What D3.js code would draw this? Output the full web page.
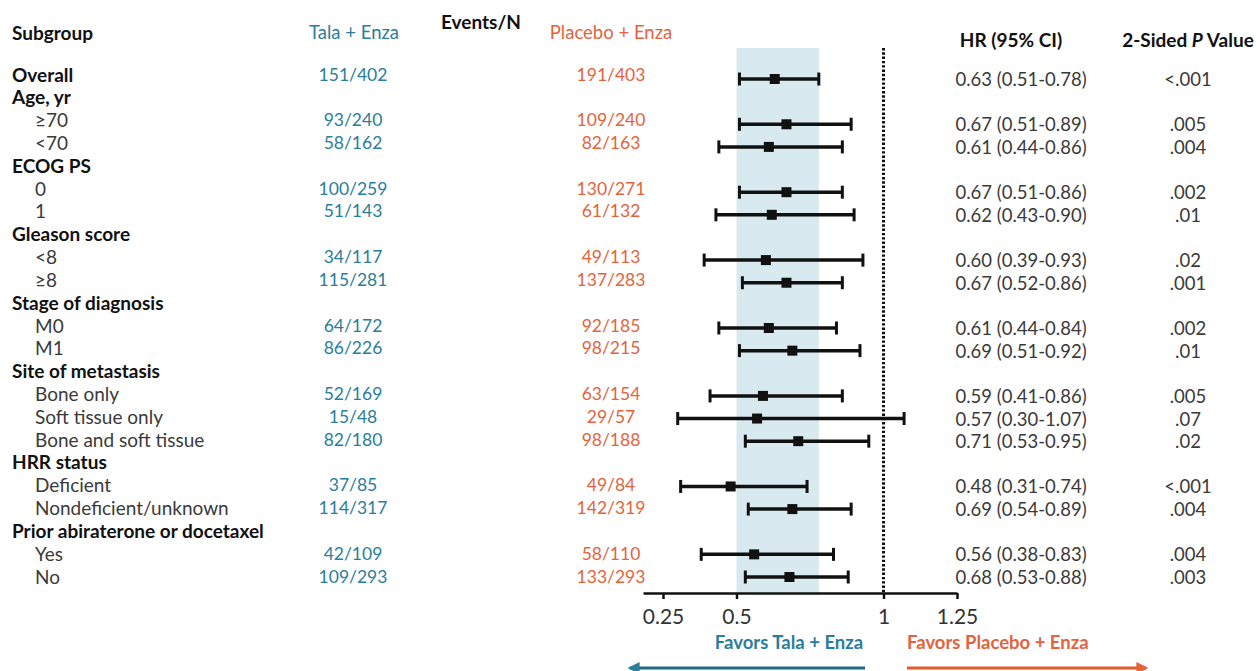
<!DOCTYPE html>
<meta charset="utf-8">
<script src="https://cdn.jsdelivr.net/npm/d3@7"></script>
<style>
  body { margin: 0; background: #fff; }
  svg text { font-family: Lato, "Open Sans", sans-serif; }
</style>
<body></body>
<script>

// --- data ---
var subgroups = ["Overall", "Age, yr", "\u226570", "<70", "ECOG PS", "0", "1",
  "Gleason score", "<8", "\u22658", "Stage of diagnosis", "M0", "M1",
  "Site of metastasis", "Bone only", "Soft tissue only", "Bone and soft tissue",
  "HRR status", "Deficient", "Nondeficient/unknown",
  "Prior abiraterone or docetaxel", "Yes", "No"];

var headingRows = ["Overall", "Age, yr", "ECOG PS", "Gleason score", "Stage of diagnosis",
  "Site of metastasis", "HRR status", "Prior abiraterone or docetaxel"];

var talaEvents = ["151/402", null, "93/240", "58/162", null, "100/259", "51/143", null,
  "34/117", "115/281", null, "64/172", "86/226", null, "52/169", "15/48", "82/180", null,
  "37/85", "114/317", null, "42/109", "109/293"];

var placeboEvents = ["191/403", null, "109/240", "82/163", null, "130/271", "61/132", null,
  "49/113", "137/283", null, "92/185", "98/215", null, "63/154", "29/57", "98/188", null,
  "49/84", "142/319", null, "58/110", "133/293"];

var hr     = [0.63, null, 0.67, 0.61, null, 0.67, 0.62, null, 0.60, 0.67, null, 0.61, 0.69, null, 0.59, 0.57, 0.71, null, 0.48, 0.69, null, 0.56, 0.68];
var ciLow  = [0.51, null, 0.51, 0.44, null, 0.51, 0.43, null, 0.39, 0.52, null, 0.44, 0.51, null, 0.41, 0.30, 0.53, null, 0.31, 0.54, null, 0.38, 0.53];
var ciHigh = [0.78, null, 0.89, 0.86, null, 0.86, 0.90, null, 0.93, 0.86, null, 0.84, 0.92, null, 0.86, 1.07, 0.95, null, 0.74, 0.89, null, 0.83, 0.88];

var pValues = ["<.001", null, ".005", ".004", null, ".002", ".01", null, ".02", ".001", null,
  ".002", ".01", null, ".005", ".07", ".02", null, "<.001", ".004", null, ".004", ".003"];

var tickValues = [0.25, 0.5, 1, 1.25];
var shadeRange = [0.5, 0.78];   // overall CI band
var nullValue = 1;

var teal = "#2b7d9b", orange = "#e4633c";

// --- layout ---
var width = 1257, height = 671;

var svg = d3.select("body").append("svg")
    .attr("width", width)
    .attr("height", height);

var rows = subgroups.map(function(s, i) {
  return {
    i: i, label: s, heading: headingRows.indexOf(s) >= 0,
    tala: talaEvents[i], placebo: placeboEvents[i],
    hr: hr[i], lo: ciLow[i], hi: ciHigh[i], p: pValues[i]
  };
});

var yLeft = d3.scalePoint().domain(d3.range(rows.length)).range([74, 576]);
var yRight = d3.scalePoint().domain(d3.range(rows.length)).range([79, 577]);

var xScale = d3.scaleLinear().domain([0.25, 1.25]).range([663, 957]);
var axisY = 593, plotTop = 48;

// headers
var head = svg.append("g").attr("font-weight", "bold").attr("font-size", 19).attr("fill", "#111");
head.append("text").attr("x", 12).attr("y", 32).attr("dominant-baseline", "central").text("Subgroup");
head.append("text").attr("x", 354).attr("y", 32).attr("text-anchor", "middle").attr("dominant-baseline", "central")
    .attr("font-weight", "normal").attr("font-size", 18.5).attr("fill", teal).text("Tala + Enza");
head.append("text").attr("x", 441).attr("y", 21).attr("dominant-baseline", "central").text("Events/N");
head.append("text").attr("x", 611).attr("y", 32).attr("text-anchor", "middle").attr("dominant-baseline", "central")
    .attr("font-weight", "normal").attr("font-size", 18.5).attr("fill", orange).text("Placebo + Enza");
head.append("text").attr("x", 1011).attr("y", 39).attr("text-anchor", "middle").attr("dominant-baseline", "central").text("HR (95% CI)");
var pHead = head.append("text").attr("x", 1188).attr("y", 39).attr("text-anchor", "middle").attr("dominant-baseline", "central");
pHead.append("tspan").text("2-Sided ");
pHead.append("tspan").attr("font-style", "italic").text("P");
pHead.append("tspan").text(" Value");

// shaded band + null line
svg.append("rect")
    .attr("x", xScale(shadeRange[0]))
    .attr("y", plotTop)
    .attr("width", xScale(shadeRange[1]) - xScale(shadeRange[0]))
    .attr("height", axisY - plotTop)
    .attr("fill", "#d8e9ef");

svg.append("line")
    .attr("x1", xScale(nullValue)).attr("x2", xScale(nullValue))
    .attr("y1", plotTop).attr("y2", axisY)
    .attr("stroke", "#111").attr("stroke-width", 3)
    .attr("stroke-dasharray", "2.4,1.9");

// left text columns
var rowText = svg.append("g");

rowText.selectAll(".label")
  .data(rows)
  .enter().append("text")
    .attr("class", "label")
    .attr("x", function(d) { return d.heading ? 12 : 35; })
    .attr("y", function(d) { return yLeft(d.i); })
    .attr("dominant-baseline", "central")
    .attr("font-size", 19)
    .attr("font-weight", function(d) { return d.heading ? "bold" : "normal"; })
    .attr("fill", function(d) { return d.heading ? "#111" : "#3a3a3a"; })
    .text(function(d) { return d.label; });

var withData = rows.filter(function(d) { return d.hr != null; });

rowText.selectAll(".tala")
  .data(withData)
  .enter().append("text")
    .attr("x", 353)
    .attr("y", function(d) { return yLeft(d.i); })
    .attr("text-anchor", "middle")
    .attr("dominant-baseline", "central")
    .attr("font-size", 17.5)
    .attr("fill", teal)
    .text(function(d) { return d.tala; });

rowText.selectAll(".placebo")
  .data(withData)
  .enter().append("text")
    .attr("x", 611)
    .attr("y", function(d) { return yLeft(d.i); })
    .attr("text-anchor", "middle")
    .attr("dominant-baseline", "central")
    .attr("font-size", 17.5)
    .attr("fill", orange)
    .text(function(d) { return d.placebo; });

// right text columns
var f2 = d3.format(".2f");
rowText.selectAll(".hrtext")
  .data(withData)
  .enter().append("text")
    .attr("x", 1021)
    .attr("y", function(d) { return yRight(d.i); })
    .attr("text-anchor", "middle")
    .attr("dominant-baseline", "central")
    .attr("font-size", 18.5)
    .attr("fill", "#3a3a3a")
    .text(function(d) { return f2(d.hr) + " (" + f2(d.lo) + "-" + f2(d.hi) + ")"; });

rowText.selectAll(".ptext")
  .data(withData)
  .enter().append("text")
    .attr("x", 1188)
    .attr("y", function(d) { return yRight(d.i); })
    .attr("text-anchor", "middle")
    .attr("dominant-baseline", "central")
    .attr("font-size", 18.5)
    .attr("fill", "#3a3a3a")
    .text(function(d) { return d.p; });

// forest marks
var ci = svg.selectAll(".ci")
  .data(withData)
  .enter().append("g")
    .attr("class", "ci")
    .attr("transform", function(d) { return "translate(0," + yRight(d.i) + ")"; })
    .attr("stroke", "#111");

ci.append("line")
    .attr("x1", function(d) { return xScale(d.lo); })
    .attr("x2", function(d) { return xScale(d.hi); })
    .attr("stroke-width", 3.5);
ci.append("line")
    .attr("x1", function(d) { return xScale(d.lo); })
    .attr("x2", function(d) { return xScale(d.lo); })
    .attr("y1", -6.5).attr("y2", 6.5).attr("stroke-width", 3);
ci.append("line")
    .attr("x1", function(d) { return xScale(d.hi); })
    .attr("x2", function(d) { return xScale(d.hi); })
    .attr("y1", -6.5).attr("y2", 6.5).attr("stroke-width", 3);
ci.append("rect")
    .attr("x", function(d) { return xScale(d.hr) - 5; })
    .attr("y", -5)
    .attr("width", 10).attr("height", 10)
    .attr("stroke", "none")
    .attr("fill", "#111");

// axis
var axisScale = d3.scaleLinear().domain([0.182, 1.25]).range([xScale(0.182), xScale(1.25)]);
var xAxis = d3.axisBottom(axisScale)
    .tickValues(tickValues)
    .tickFormat(function(d) { return String(d); })
    .tickSizeOuter(0)
    .tickSizeInner(6)
    .tickPadding(10);

var axisG = svg.append("g")
    .attr("transform", "translate(0," + axisY + ")")
    .call(xAxis);
axisG.select(".domain").attr("stroke", "#111").attr("stroke-width", 2.5);
axisG.selectAll(".tick line").attr("stroke", "#111").attr("stroke-width", 2.5);
axisG.selectAll(".tick text")
    .attr("font-family", "Lato, sans-serif")
    .attr("font-size", 21)
    .attr("fill", "#333");

// favors labels + arrows
var defs = svg.append("defs");
[["arrTeal", teal], ["arrOrange", orange]].forEach(function(m) {
  defs.append("marker")
      .attr("id", m[0])
      .attr("viewBox", "0 0 10 10")
      .attr("refX", 8).attr("refY", 5)
      .attr("markerWidth", 4).attr("markerHeight", 4)
      .attr("orient", "auto")
    .append("path")
      .attr("d", "M0,0L10,5L0,10z")
      .attr("fill", m[1]);
});

svg.append("text").attr("x", 789).attr("y", 642)
    .attr("text-anchor", "middle").attr("dominant-baseline", "central")
    .attr("font-size", 18.5).attr("font-weight", "bold").attr("fill", teal)
    .text("Favors Tala + Enza");
svg.append("text").attr("x", 907).attr("y", 642)
    .attr("dominant-baseline", "central")
    .attr("font-size", 18.5).attr("font-weight", "bold").attr("fill", orange)
    .text("Favors Placebo + Enza");

svg.append("line")
    .attr("x1", 865).attr("x2", 630).attr("y1", 668).attr("y2", 668)
    .attr("stroke", "#1f6b87").attr("stroke-width", 3)
    .attr("marker-end", "url(#arrTeal)");
svg.append("line")
    .attr("x1", 907).attr("x2", 1146).attr("y1", 668).attr("y2", 668)
    .attr("stroke", "#de5a33").attr("stroke-width", 3)
    .attr("marker-end", "url(#arrOrange)");

</script>
